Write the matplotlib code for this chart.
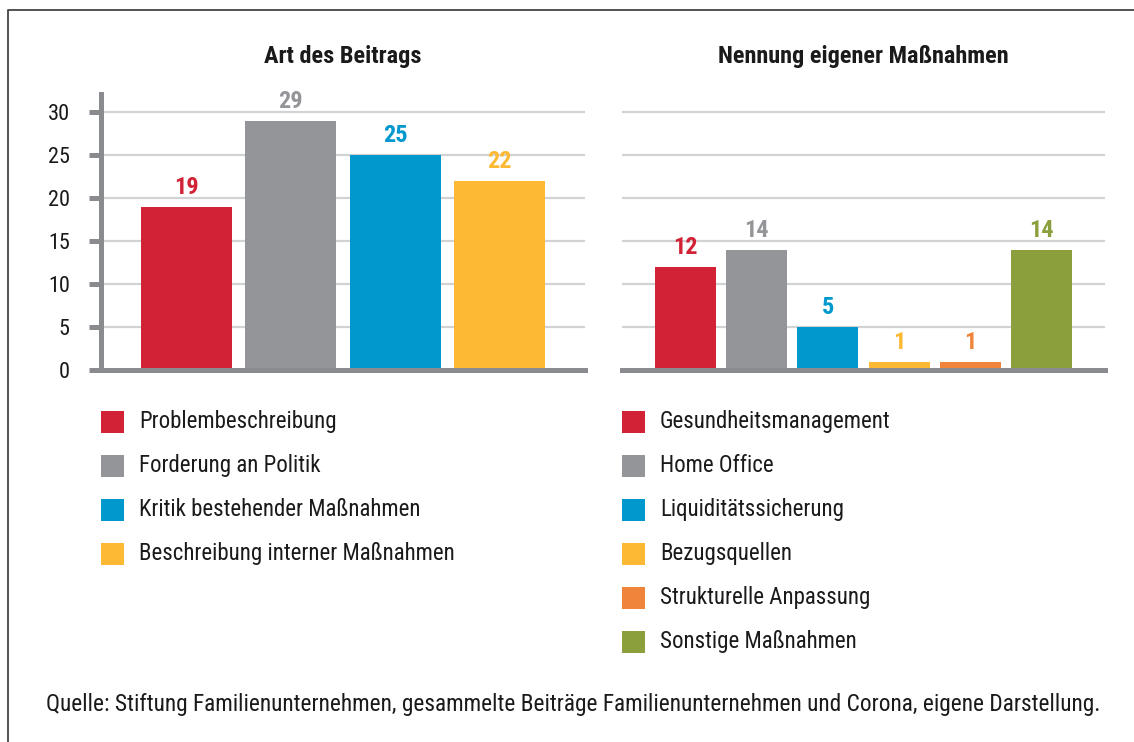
import matplotlib
matplotlib.use("Agg")
import matplotlib.pyplot as plt
from matplotlib.lines import Line2D
from matplotlib.patches import Rectangle
from matplotlib import font_manager as fm

# ---------------- data ----------------
left_title = "Art des Beitrags"
left_categories = ["Problembeschreibung", "Forderung an Politik",
                   "Kritik bestehender Maßnahmen", "Beschreibung interner Maßnahmen"]
left_values = [19, 29, 25, 22]
left_colors = ["#D12335", "#939598", "#0098CD", "#FDB933"]

right_title = "Nennung eigener Maßnahmen"
right_categories = ["Gesundheitsmanagement", "Home Office", "Liquiditätssicherung",
                    "Bezugsquellen", "Strukturelle Anpassung", "Sonstige Maßnahmen"]
right_values = [12, 14, 5, 1, 1, 14]
right_colors = ["#D12335", "#939598", "#0098CD", "#FDB933", "#F0843A", "#8BA03D"]

y_ticks = [0, 5, 10, 15, 20, 25, 30]
source_text = ("Quelle: Stiftung Familienunternehmen, gesammelte Beiträge "
               "Familienunternehmen und Corona, eigene Darstellung.")

# ---------------- fonts ----------------
names = {f.name for f in fm.fontManager.ttflist}
if "Roboto Condensed" in names:
    FONT = "Roboto Condensed"
elif "Liberation Sans Narrow" in names:
    FONT = "Liberation Sans Narrow"
else:
    FONT = "Roboto"
plt.rcParams["font.family"] = [FONT, "DejaVu Sans"]

W, H = 1134, 742
fig = plt.figure(figsize=(W / 100, H / 100), dpi=100)
fig.patch.set_facecolor("white")

def fx(px):
    return px / W

def fy(py):
    return 1 - py / H

AXIS_COL = "#8a8b8e"
GRID_COL = "#d1d2d4"
TEXT_COL = "#1a1a1a"

y_top = 32.15
base_px, top_px = 370.5, 94

def make_axes(x0, x1, show_y):
    ax = fig.add_axes([fx(x0), fy(base_px), fx(x1) - fx(x0), (base_px - top_px) / H])
    ax.set_ylim(0, y_top)
    ax.set_yticks(y_ticks)
    ax.yaxis.grid(True, color=GRID_COL, linewidth=1.6)
    ax.set_axisbelow(True)
    for s in ["top", "right"]:
        ax.spines[s].set_visible(False)
    ax.spines["bottom"].set_color(AXIS_COL)
    ax.spines["bottom"].set_linewidth(3.6)
    ax.set_xticks([])
    if show_y:
        ax.spines["left"].set_color(AXIS_COL)
        ax.spines["left"].set_linewidth(3.6)
        ax.tick_params(axis="y", length=8.3, width=3.6, color=AXIS_COL, pad=14,
                       labelsize=16, labelcolor=TEXT_COL)
    else:
        ax.spines["left"].set_visible(False)
        ax.tick_params(axis="y", left=False, labelleft=False)
    return ax

def draw_bars(ax, values, colors, width):
    xs = list(range(len(values)))
    ax.bar(xs, values, width=width, color=colors, zorder=2)
    for x, v, c in zip(xs, values, colors):
        ax.annotate(str(v), (x, v), xytext=(0, 9.5), textcoords="offset points",
                    ha="center", va="baseline", color=c, fontsize=17.5,
                    fontweight="bold")

axL = make_axes(100.8, 585, True)
axL.set_xlim(-0.82, len(left_values) - 1 + 0.82)
draw_bars(axL, left_values, left_colors, 0.872)

axR = make_axes(622, 1105, False)
axR.set_xlim(-0.89, len(right_values) - 1 + 0.89)
draw_bars(axR, right_values, right_colors, 0.857)

# titles
fig.text(fx(343), fy(57), left_title, ha="center", va="center",
         fontsize=17.5, fontweight="bold", color=TEXT_COL)
fig.text(fx(863.5), fy(57), right_title, ha="center", va="center",
         fontsize=17.5, fontweight="bold", color=TEXT_COL)

# legends
def draw_legend(x_box, x_text, labels, colors):
    for i, (lab, col) in enumerate(zip(labels, colors)):
        yc = 421.7 + 44 * i
        fig.add_artist(Rectangle((fx(x_box), fy(yc + 11)), fx(23), 22 / H,
                                 transform=fig.transFigure, facecolor=col,
                                 edgecolor="none"))
        fig.text(fx(x_text), fy(yc), lab, ha="left", va="center",
                 fontsize=16.5, color=TEXT_COL)

draw_legend(101, 139, left_categories, left_colors)
draw_legend(622, 660, right_categories, right_colors)

# source
fig.text(fx(46), fy(705), source_text, ha="left", va="center",
         fontsize=16.8, color=TEXT_COL)

# frame (left and top lines)
fig.add_artist(Line2D([fx(8), fx(8), fx(W)], [0, fy(10), fy(10)],
                      transform=fig.transFigure, color="#444444", linewidth=1.3))

fig.savefig("out.png", dpi=100, facecolor="white")
